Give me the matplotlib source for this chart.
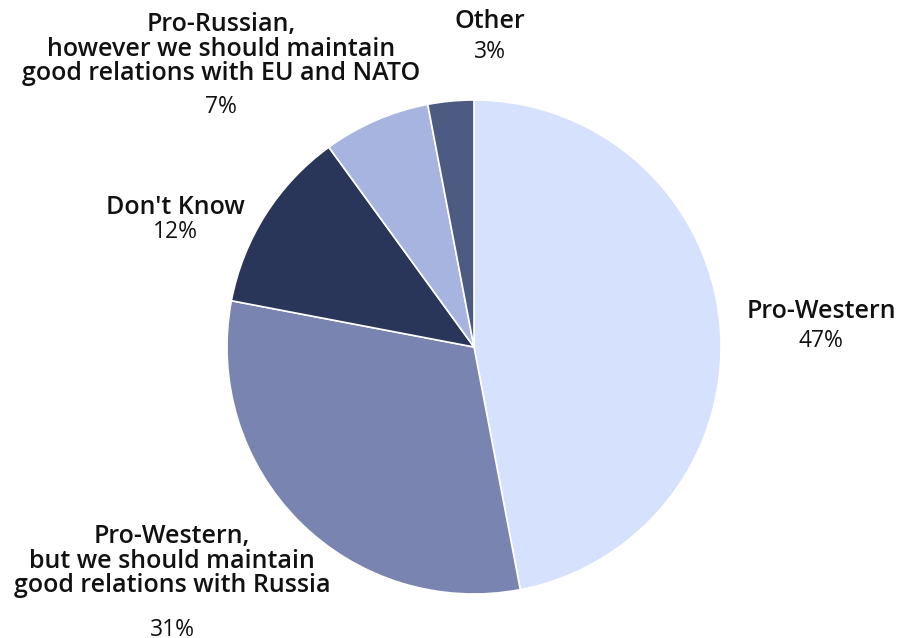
import matplotlib
matplotlib.use("Agg")
import matplotlib.pyplot as plt

# survey answers, clockwise from 12 o'clock
labels = ["Pro-Western",
          "Pro-Western,\nbut we should maintain\ngood relations with Russia",
          "Don't Know",
          "Pro-Russian,\nhowever we should maintain\ngood relations with EU and NATO",
          "Other"]
shares = [47, 31, 12, 7, 3]
colors = ["#d5e1fd", "#7985b0", "#2a3659", "#a8b4e0", "#4d5b82"]

# label anchors in pixel space (name centre, percent centre), y from the top
name_pos = [(821, 312), (172, 561), (175, 207), (221, 49), (490, 22)]
pct_pos = [(821, 341), (172, 630), (175, 232), (221, 107), (490, 52)]

W, H = 899, 638
plt.rcParams["font.family"] = ["Open Sans", "DejaVu Sans"]
fig = plt.figure(figsize=(W / 100, H / 100), dpi=100)
ax = fig.add_axes([0, 0, 1, 1])

ax.pie(shares, colors=colors, startangle=90, counterclock=False,
       center=(474, H - 347), radius=247,
       wedgeprops=dict(edgecolor="white", linewidth=1.2))

# pie() rescales the axes, so fix the pixel frame afterwards
ax.set_xlim(0, W)
ax.set_ylim(0, H)
ax.set_aspect("equal")
ax.axis("off")

for lab, val, (nx, ny), (px, py) in zip(labels, shares, name_pos, pct_pos):
    ax.text(nx, H - ny, lab, ha="center", va="center", fontsize=18,
            fontweight="semibold", color="#111111", linespacing=0.99)
    ax.text(px, H - py, f"{val}%", ha="center", va="center", fontsize=16.5,
            color="#111111")

fig.savefig("out.png", dpi=100)
